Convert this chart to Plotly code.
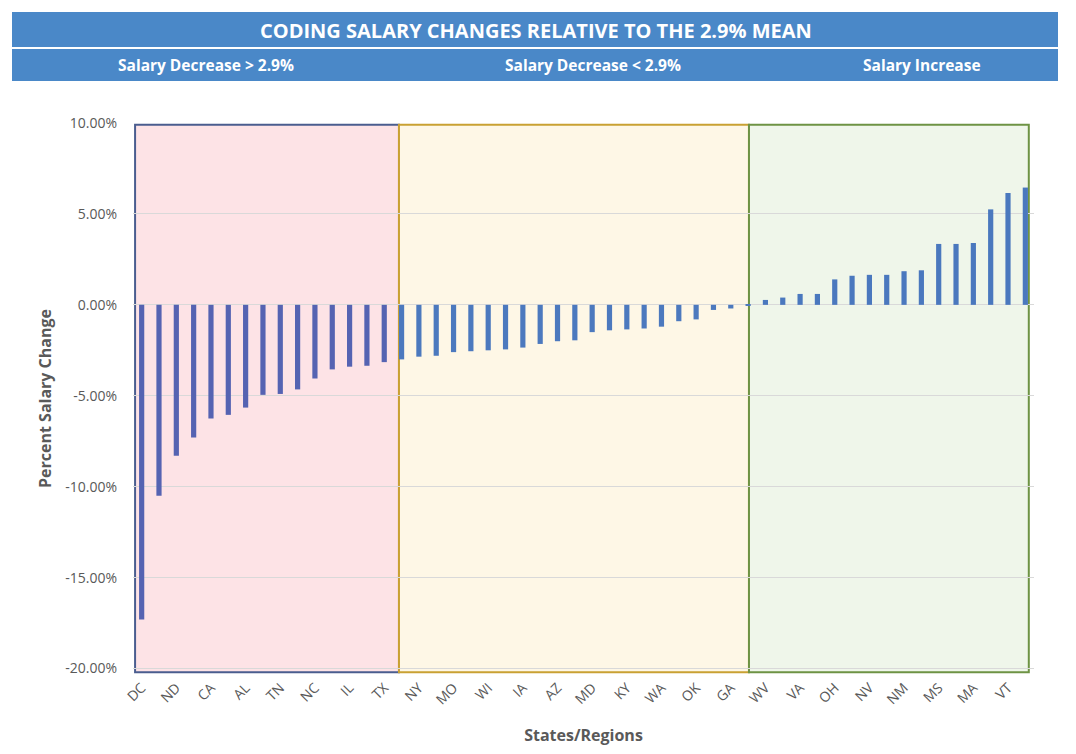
import plotly.graph_objects as go

states = ["DC", "HI", "ND", "NJ", "CA", "CT", "AL", "WY", "TN", "SD", "NC", "LA", "IL", "CO",
          "TX", "FL", "NY", "PA", "MO", "MI", "WI", "MN", "IA", "IN", "AZ", "SC", "MD", "OR",
          "KY", "UT", "WA", "KS", "OK", "AR", "GA", "NE", "WV", "DE", "VA", "ID", "OH", "MT",
          "NV", "NH", "NM", "ME", "MS", "RI", "MA", "AK", "VT", "PR"]
changes = [-17.3, -10.5, -8.3, -7.3, -6.25, -6.05, -5.65, -4.95, -4.9, -4.65, -4.05, -3.55,
           -3.4, -3.35, -3.15, -3.0, -2.85, -2.8, -2.6, -2.55, -2.5, -2.45, -2.35, -2.15,
           -2.0, -1.95, -1.5, -1.4, -1.35, -1.3, -1.2, -0.9, -0.8, -0.28, -0.2, -0.05,
           0.27, 0.4, 0.6, 0.6, 1.4, 1.6, 1.65, 1.65, 1.85, 1.9, 3.35, 3.35, 3.4, 5.25,
           6.15, 6.45]
group_names = ["Salary Decrease > 2.9%", "Salary Decrease < 2.9%", "Salary Increase"]
group_sizes = [15, 21, 16]
y_ticks = [-20, -15, -10, -5, 0, 5, 10]

title_text = "CODING SALARY CHANGES RELATIVE TO THE 2.9% MEAN"

fills = ["#FDE3E6", "#FEF7E6", "#EFF6EA"]
borders = ["#4A5D8F", "#C9A133", "#6E9344"]
bar_cols = ["#5563B2", "#4C79BE", "#4A78BE"]

colors = []
for g, n in enumerate(group_sizes):
    colors += [bar_cols[g]] * n

# page has an 8px body margin; work in page (screenshot) pixels
OFF = 8
W, H = 1076 - 2 * OFF, 754 - 2 * OFF
L, R, T, B = 133, 1034, 123, 674.5  # plot area in page pixels


def px(x):
    return (x - L) / (R - L)


def py(y):
    return (B - y) / (B - T)


fig = go.Figure()
fig.add_trace(go.Bar(x=states, y=changes, marker=dict(color=colors, line=dict(width=0)),
                     showlegend=False))

bounds = [-0.38, 14.85, 35.05, 51.2]
for g in range(3):
    fig.add_shape(type="rect", xref="x", yref="y", x0=bounds[g], x1=bounds[g + 1],
                  y0=-20.2, y1=9.9, fillcolor=fills[g],
                  line=dict(color=borders[g], width=2), layer="below")

fig.add_shape(type="rect", xref="paper", yref="paper", x0=px(12), x1=px(1058),
              y0=py(47), y1=py(12), fillcolor="#4A88C8", line=dict(width=0))
fig.add_shape(type="rect", xref="paper", yref="paper", x0=px(12), x1=px(1058),
              y0=py(81), y1=py(49), fillcolor="#4A88C8", line=dict(width=0))
fig.add_annotation(text="<b>" + title_text + "</b>", xref="paper", yref="paper",
                   x=px(536), y=py(30), xanchor="center", yanchor="middle", showarrow=False,
                   font=dict(family="Open Sans", size=20, color="white"))
sub_x = [206, 593, 922]
for g in range(3):
    fig.add_annotation(text="<b>" + group_names[g] + "</b>", xref="paper", yref="paper",
                       x=px(sub_x[g]), y=py(65), xanchor="center", yanchor="middle",
                       showarrow=False,
                       font=dict(family="Open Sans", size=15.5, color="white"))

fig.update_layout(
    width=W, height=H,
    margin=dict(l=L - OFF, r=W - (R - OFF), t=T - OFF, b=H - (B - OFF), autoexpand=False),
    paper_bgcolor="white", plot_bgcolor="white",
    bargap=0.7,
    font=dict(family="Open Sans", color="#595959"),
    xaxis=dict(
        type="category", automargin=False,
        tickmode="array", tickvals=states[::2], ticktext=states[::2],
        tickangle=-45, tickfont=dict(size=14, color="#595959"),
        showgrid=False, showline=False, ticks="",
        ticklabelstandoff=2,
        range=[-0.5, 51.5],
        title=dict(text="<b>States/Regions</b>", font=dict(size=16, color="#595959"),
                   standoff=22),
    ),
    yaxis=dict(
        range=[-20.3, 10.0], automargin=False,
        tickmode="array", tickvals=y_ticks,
        ticktext=[f"{v:.2f}%" for v in y_ticks],
        tickfont=dict(size=14, color="#595959"),
        showgrid=True, gridcolor="#D9D9D9", gridwidth=1,
        zeroline=False, showline=False, ticks="",
        ticklabelstandoff=15,
        title=dict(text="<b>Percent Salary Change</b>", font=dict(size=16, color="#595959"),
                   standoff=9),
    ),
)

fig.write_html("out.html")
